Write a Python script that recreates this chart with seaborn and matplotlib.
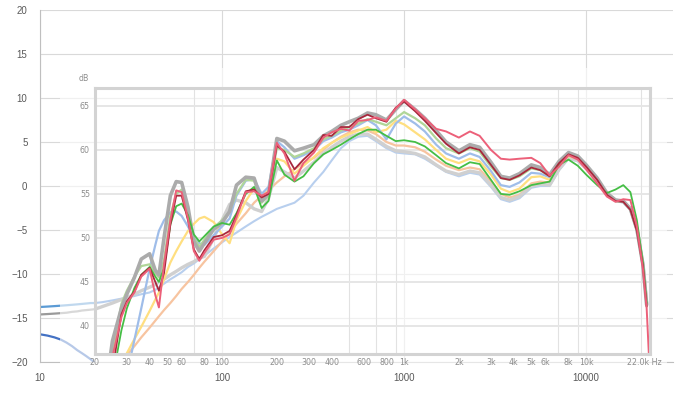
import numpy as np
import pandas as pd
import seaborn as sns
import matplotlib.pyplot as plt
from matplotlib.patches import Rectangle
from matplotlib.ticker import FixedLocator, NullLocator

nan = np.nan

# ----- Outer chart (Excel style) : 10 Hz .. 20 Hz tails ----- #
outer_freq = [10, 11, 12, 13, 14, 15, 16, 17, 18, 19, 20]
outer_blue = [-13.75, -13.7, -13.65, -13.6, -13.55, -13.5, -13.45, -13.4, -13.35, -13.3, -13.3]
outer_gray = [-14.6, -14.55, -14.5, -14.45, -14.4, -14.3, -14.25, -14.15, -14.1, -14.05, -14.0]
outer_dark_blue = [-16.85, -17.0, -17.2, -17.45, -17.8, -18.2, -18.65, -19.0, -19.35, -19.7, -20.1]
outer_yticks = [-20, -15, -10, -5, 0, 5, 10, 15, 20]
outer_xticks = [10, 100, 1000, 10000]
outer_xlabels = ['10', '100', '1000', '10000']

# ----- Inner chart (pasted response graph, dB) ----- #
freq = [20, 22, 25, 28, 30, 33, 36, 40, 43, 45,
        48, 52, 56, 60, 65, 70, 75, 80, 90, 100,
        110, 120, 135, 150, 165, 180, 200, 220, 250, 280,
        320, 360, 400, 450, 500, 560, 630, 700, 800, 900,
        1000, 1150, 1300, 1500, 1700, 2000, 2300, 2600, 3000, 3400,
        3800, 4300, 5000, 5600, 6300, 7100, 8000, 9000, 10000, 11500,
        13000, 14500, 16000, 17500, 19000, 20500, 21500, 22200]

pale_blue = [42.6, 42.7, 42.9, 43.1, 43.2, 43.4, 43.6, 43.8, 44.1, 44.4,
             44.8, 45.3, 45.7, 46.1, 46.7, 47.1, 47.6, 48.0, 48.8, 49.5,
             50.1, 50.6, 51.3, 51.9, 52.4, 52.8, 53.3, 53.6, 54.0, 54.8,
             56.3, 57.5, 58.8, 60.2, 61.0, 61.5, 61.6, 61.0, 60.2, 59.7,
             59.6, 59.5, 59.0, 58.2, 57.5, 57.0, 57.4, 57.2, 55.8, 54.4,
             54.1, 54.5, 55.7, 55.9, 55.9, 57.7, 59.0, 58.7, 57.8, 56.5,
             54.9, 54.2, 54.0, 53.2, 51.0, 47.0, 42.4, nan]
orange = [nan, nan, 35.0, 36.0, 36.7, 37.7, 38.7, 39.8, 40.6, 41.1,
          41.8, 42.6, 43.4, 44.2, 45.0, 45.8, 46.6, 47.3, 48.5, 49.6,
          50.6, 51.6, 52.8, 54.0, 54.8, 55.4, 56.3, 57.0, 57.8, 58.5,
          59.1, 60.0, 60.8, 61.5, 62.0, 62.3, 62.2, 61.8, 60.9, 60.5,
          60.5, 60.3, 59.8, 58.9, 58.2, 57.7, 58.0, 57.8, 56.4, 55.0,
          54.6, 54.9, 56.2, 56.4, 56.3, 58.0, 59.3, 58.9, 58.0, 56.6,
          55.0, 54.2, 54.1, 53.3, 51.0, 47.0, 42.4, nan]
light_gray = [41.9, 42.2, 42.6, 43.0, 43.2, 43.6, 44.0, 44.4, 44.7, 45.0,
              45.3, 45.8, 46.2, 46.6, 47.0, 47.3, 47.7, 47.9, 50.0, 52.0,
              53.8, 54.3, 54.0, 53.3, 53.0, 54.5, 58.0, 57.5, 56.8, 57.6,
              58.6, 59.6, 60.3, 61.0, 61.5, 61.8, 61.8, 61.2, 60.4, 59.9,
              59.8, 59.6, 59.2, 58.3, 57.6, 57.2, 57.6, 57.4, 56.0, 54.6,
              54.3, 54.7, 55.9, 56.1, 56.0, 57.8, 59.1, 58.8, 57.9, 56.6,
              55.0, 54.3, 54.1, 53.3, 51.0, 47.0, 42.5, nan]
yellow = [nan, nan, nan, 35.7, 36.9, 38.5, 39.9, 41.7, 43.0, 43.8,
          45.3, 47.2, 48.5, 49.6, 50.8, 51.6, 52.2, 52.4, 51.8, 50.4,
          49.4, 52.0, 54.2, 55.6, 54.6, 55.4, 59.0, 58.7, 57.3, 58.2,
          59.2, 60.2, 60.8, 61.4, 61.8, 62.2, 62.6, 62.0, 62.3, 63.3,
          62.9, 62.0, 61.2, 60.0, 59.0, 58.5, 59.0, 58.7, 57.2, 55.6,
          55.2, 55.6, 56.9, 57.0, 56.6, 58.4, 59.3, 59.0, 58.0, 56.6,
          55.0, 54.2, 54.1, 53.3, 51.0, 47.0, 42.4, nan]
light_blue = [nan, nan, nan, 30.0, 34.5, 38.4, 42.0, 46.5, 49.2, 50.8,
              52.0, 52.9, 53.0, 52.5, 51.3, 50.0, 49.4, 49.2, 50.3, 51.3,
              52.2, 54.8, 56.5, 56.7, 55.0, 55.8, 61.0, 60.3, 59.0, 59.4,
              60.0, 61.0, 61.4, 62.0, 62.3, 62.8, 63.4, 62.8, 61.2, 63.0,
              63.8, 63.0, 62.1, 60.6, 59.6, 59.0, 59.6, 59.2, 57.6, 56.0,
              55.8, 56.3, 57.4, 57.3, 56.9, 58.7, 59.5, 59.1, 58.1, 56.6,
              55.0, 54.2, 54.1, 53.3, 51.0, 47.0, 42.4, nan]
light_green = [nan, nan, 37.0, 42.5, 44.0, 45.6, 46.8, 47.0, 46.0, 45.5,
               47.5, 52.5, 55.0, 55.5, 53.0, 50.0, 49.0, 49.8, 51.2, 52.0,
               53.0, 55.0, 56.6, 56.5, 54.0, 54.8, 60.2, 60.0, 59.2, 59.6,
               60.2, 61.2, 61.6, 62.2, 62.6, 63.0, 63.5, 63.2, 62.8, 63.6,
               64.3, 63.6, 62.8, 61.3, 60.2, 59.6, 60.2, 59.8, 58.1, 56.8,
               56.6, 57.0, 57.9, 57.7, 57.0, 58.6, 59.6, 59.2, 58.2, 56.7,
               55.0, 54.2, 54.1, 53.2, 50.8, 46.8, 42.2, nan]
gray_a = [nan, 30.0, 38.3, 42.0, 43.6, 45.5, 47.6, 48.2, 46.3, 45.8,
          50.0, 54.8, 56.4, 56.3, 53.5, 49.6, 48.5, 49.4, 51.0, 51.7,
          53.0, 56.0, 56.9, 56.8, 54.2, 55.0, 61.3, 61.0, 59.9, 60.2,
          60.6, 61.6, 62.1, 62.8, 63.2, 63.6, 64.2, 64.0, 63.4, 64.6,
          65.6, 64.6, 63.6, 62.2, 60.9, 59.9, 60.6, 60.3, 58.6, 57.0,
          56.8, 57.3, 58.3, 58.0, 57.2, 58.7, 59.7, 59.3, 58.3, 56.8,
          55.1, 54.3, 54.2, 53.3, 51.0, 47.0, 42.4, nan]
green = [nan, nan, 34.0, 39.5, 42.0, 44.3, 45.8, 46.7, 45.6, 45.0,
         46.6, 51.5, 53.6, 53.9, 52.6, 50.4, 49.6, 50.2, 51.3, 51.7,
         51.5, 52.8, 55.0, 55.8, 53.4, 54.2, 58.8, 57.2, 56.4, 57.0,
         58.5, 59.5, 60.0, 60.6, 61.2, 61.8, 62.3, 62.3, 61.6, 61.0,
         61.1, 60.9, 60.4, 59.4, 58.5, 57.9, 58.6, 58.4, 56.6, 55.0,
         54.9, 55.3, 56.0, 56.2, 56.4, 58.3, 58.9, 58.2, 57.2, 56.0,
         55.1, 55.5, 56.0, 55.2, 52.0, 47.2, 42.6, nan]
dark_red = [nan, nan, 35.0, 41.3, 42.8, 43.9, 45.8, 46.6, 45.0, 44.0,
            46.0, 51.5, 54.8, 54.8, 52.0, 48.7, 47.6, 48.6, 50.1, 50.3,
            50.8, 52.6, 55.3, 55.5, 54.6, 55.0, 60.5, 59.8, 57.8, 58.9,
            60.0, 61.7, 61.6, 62.6, 62.6, 63.5, 64.0, 63.6, 63.2, 64.8,
            65.5, 64.4, 63.3, 61.9, 60.7, 59.6, 60.3, 60.0, 58.3, 56.8,
            56.6, 57.1, 58.0, 57.7, 57.0, 58.5, 59.5, 59.1, 58.1, 56.6,
            54.9, 54.2, 54.1, 53.2, 50.8, 46.8, 42.2, nan]
red = [nan, nan, 36.5, 41.0, 42.6, 43.8, 45.6, 46.5, 43.5, 42.1,
       47.0, 52.0, 55.4, 55.2, 52.2, 48.5, 47.4, 48.3, 49.8, 50.0,
       50.4, 52.3, 55.2, 55.3, 54.8, 55.2, 60.8, 59.6, 56.5, 58.5,
       59.7, 61.4, 62.0, 62.4, 62.2, 63.3, 63.4, 63.7, 63.3, 64.7,
       65.7, 64.6, 63.6, 62.4, 62.1, 61.4, 62.1, 61.6, 60.0, 59.0,
       58.9, 59.0, 59.1, 58.5, 57.1, 58.1, 59.4, 58.9, 57.8, 56.2,
       54.7, 54.1, 54.4, 54.3, 51.3, 46.5, 42.0, 36.0]

inner_xticks = [20, 30, 40, 50, 60, 80, 100, 200, 300, 400, 600, 800,
                1000, 2000, 3000, 4000, 5000, 6000, 8000, 10000, 21000]
inner_xlabels = ['20', '30', '40', '50', '60', '80', '100', '200', '300', '400', '600', '800',
                 '1k', '2k', '3k', '4k', '5k', '6k', '8k', '10k', '22.0k Hz']
inner_grid = [20, 30, 40, 50, 60, 70, 80, 90, 100, 200, 300, 400, 500, 600, 700, 800, 900,
              1000, 2000, 3000, 4000, 5000, 6000, 7000, 8000, 9000, 10000, 20000]
inner_yticks = [40, 45, 50, 55, 60, 65]

# draw order, colour and width of each inner trace
series = {
    'pale blue': (pale_blue, '#b8cfee', 1.5),
    'orange': (orange, '#f7c4a0', 1.6),
    'light gray': (light_gray, '#d0d0d0', 2.4),
    'yellow': (yellow, '#ffdf80', 1.6),
    'light blue': (light_blue, '#9fbde9', 1.6),
    'light green': (light_green, '#b0d698', 1.6),
    'gray': (gray_a, '#ababab', 2.6),
    'green': (green, '#45be45', 1.3),
    'dark red': (dark_red, '#a8283c', 1.3),
    'red': (red, '#ec6079', 1.4),
}

DB_OFFSET = 55.9  # inner dB value that sits on outer 0


def build_frame():
    # ----- long form table for seaborn ----- #
    frames = []
    for name, (values, _, _) in series.items():
        frames.append(pd.DataFrame({'freq': freq, 'db': values, 'series': name}))
    df = pd.concat(frames, ignore_index=True).dropna()
    return df


def draw_chart():
    sns.set_style('white')
    plt.rcParams['font.family'] = ['DejaVu Sans']

    fig = plt.figure(figsize=(6.88, 4.0), dpi=100)
    ax = fig.add_axes([40 / 688, 38 / 400, 633 / 688, 352 / 400])

    # ----- Outer axes ----- #
    ax.set_xscale('log')
    ax.set_xlim(10, 30000)
    ax.set_ylim(-20, 20)
    sns.lineplot(x=outer_freq, y=outer_blue, ax=ax, color='#5b9bd5', linewidth=1.6)
    sns.lineplot(x=outer_freq, y=outer_gray, ax=ax, color='#9a9a9a', linewidth=1.6)
    sns.lineplot(x=outer_freq, y=outer_dark_blue, ax=ax, color='#4472c4', linewidth=1.6)
    ax.set_xlim(10, 30000)
    ax.set_ylim(-20, 20)
    ax.set_yticks(outer_yticks)
    ax.set_xticks(outer_xticks)
    ax.set_xticklabels(outer_xlabels)
    ax.xaxis.set_minor_locator(NullLocator())
    ax.grid(True, color='#d9d9d9', linewidth=0.8)
    ax.set_axisbelow(True)
    for side in ['top', 'right']:
        ax.spines[side].set_visible(False)
    for side in ['left', 'bottom']:
        ax.spines[side].set_color('#bfbfbf')
        ax.spines[side].set_linewidth(0.8)
    ax.tick_params(length=0, labelsize=7, colors='#595959')
    ax.tick_params(axis='y', pad=9)
    ax.tick_params(axis='x', pad=8)
    for lab in ax.get_xticklabels() + ax.get_yticklabels():
        lab.set_fontfamily('Liberation Sans')
    ax.set_xlabel('')
    ax.set_ylabel('')

    # ----- semi transparent pasted picture ----- #
    ax.add_patch(Rectangle((60 / 688, 1 - 368 / 400), 607 / 688, 300 / 400,
                           transform=fig.transFigure, facecolor='white', alpha=0.62,
                           edgecolor='none', zorder=3, clip_on=False))

    # ----- Inner axes, placed on the outer scale ----- #
    y_lo, y_hi = 36.8, 67.0
    ax_in = ax.inset_axes([20, y_lo - DB_OFFSET, 22500 - 20, y_hi - y_lo],
                          transform=ax.transData, zorder=5)
    ax_in.set_facecolor('none')
    ax_in.set_xscale('log')

    df = build_frame()
    sns.lineplot(data=df, x='freq', y='db', hue='series', size='series',
                 hue_order=list(series.keys()), size_order=list(series.keys()),
                 palette={k: v[1] for k, v in series.items()},
                 sizes={k: v[2] for k, v in series.items()},
                 estimator=None, legend=False, ax=ax_in)

    ax_in.set_xlim(20, 22500)
    ax_in.set_ylim(y_lo, y_hi)
    ax_in.set_xticks(inner_xticks)
    ax_in.set_xticklabels(inner_xlabels)
    ax_in.xaxis.set_minor_locator(FixedLocator(inner_grid))
    ax_in.set_yticks(inner_yticks)
    ax_in.grid(False)
    ax_in.grid(True, which='minor', axis='x', color='#e2e2e2', linewidth=0.8)
    ax_in.grid(True, which='major', axis='y', color='#e6e6e6', linewidth=1.4)
    ax_in.set_axisbelow(True)
    ax_in.tick_params(which='both', length=0, labelsize=5.7, colors='#8c8c8c')
    ax_in.tick_params(axis='x', pad=3)
    ax_in.tick_params(axis='y', pad=3.5)
    for side in ax_in.spines.values():
        side.set_color('#d3d3d3')
        side.set_linewidth(2.2)
    ax_in.set_xlabel('')
    ax_in.set_ylabel('')
    ax_in.text(-0.02, 1.02, 'dB', transform=ax_in.transAxes, fontsize=5.7,
               color='#8c8c8c', ha='center', va='bottom')

    fig.savefig('out.png', dpi=100)


# ----- Main ----- #
if __name__ == '__main__':
    draw_chart()
